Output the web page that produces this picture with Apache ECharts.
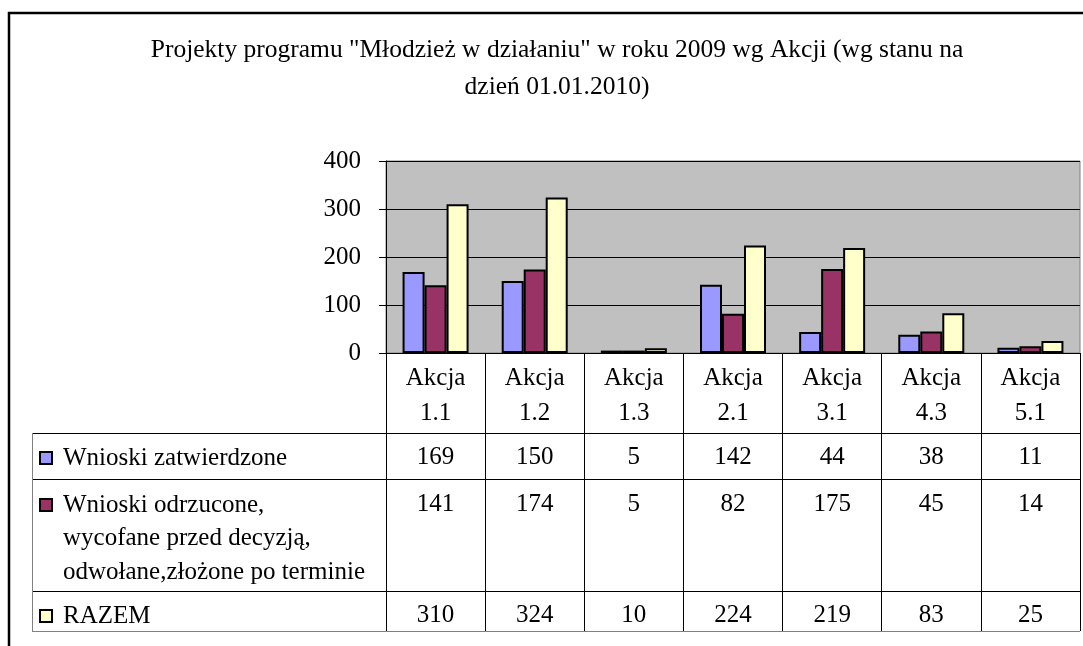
<!DOCTYPE html>
<html>
<head>
<meta charset="utf-8">
<script src="https://cdn.jsdelivr.net/npm/echarts@6/dist/echarts.min.js"></script>
<style>
  html, body { margin: 0; padding: 0; background: #fff; }
  #chart { width: 1083px; height: 646px; }
</style>
</head>
<body>
<div id="chart"></div>
<script>
const categories = ['Akcja\n1.1', 'Akcja\n1.2', 'Akcja\n1.3', 'Akcja\n2.1', 'Akcja\n3.1', 'Akcja\n4.3', 'Akcja\n5.1']
const approved = [169, 150, 5, 142, 44, 38, 11]
const rejected = [141, 174, 5, 82, 175, 45, 14]
const total = [310, 324, 10, 224, 219, 83, 25]
const seriesNames = [
  'Wnioski zatwierdzone',
  'Wnioski odrzucone,\nwycofane przed decyzją,\nodwołane,złożone po terminie',
  'RAZEM'
]
const yTicks = [0, 100, 200, 300, 400]
const titleText = 'Projekty programu "Młodzież w działaniu" w roku 2009 wg Akcji (wg stanu na\ndzień 01.01.2010)'

const font = 'Liberation Serif'
const colors = ['#9999FF', '#993366', '#FFFFCC']

// plot area
const plotLeft = 386
const plotTop = 161
const plotWidth = 694
const plotHeight = 192
const axisY = plotTop + plotHeight
// table row lines (px from top)
const rowLines = [433, 479, 591, 631]
const tableLeft = 32
const tableFont = 25

const chart = echarts.init(document.getElementById('chart'), null, { renderer: 'canvas' })

const rowAxis = (offset, margin, values) => ({
  type: 'category',
  gridIndex: 0,
  position: 'bottom',
  offset: offset,
  data: categories,
  axisLine: { show: false },
  axisTick: { show: false },
  splitLine: { show: false },
  axisLabel: {
    margin: margin,
    fontFamily: font,
    fontSize: tableFont,
    lineHeight: 28,
    color: '#000',
    formatter: (v, i) => String(values[i])
  }
})

const legendBase = {
  left: 34,
  icon: 'rect',
  itemWidth: 12,
  itemHeight: 12,
  formatter: name => name.split('\n')[0],
  textStyle: {
    fontFamily: font,
    fontSize: tableFont,
    lineHeight: 28,
    color: '#000',
    padding: [0, 0, 0, 6]
  }
}

// lines 2-3 of the second legend entry
const extraLegendLines = seriesNames[1].split('\n').slice(1)

const option = {
  backgroundColor: '#fff',
  animation: false,
  legend: [
    { ...legendBase, data: [seriesNames[0]], top: 439 },
    { ...legendBase, data: [seriesNames[1]], top: 486 },
    { ...legendBase, data: [seriesNames[2]], top: 597 }
  ],
  grid: {
    left: plotLeft,
    top: plotTop,
    width: plotWidth,
    height: plotHeight,
    show: true,
    backgroundColor: '#C0C0C0',
    borderColor: '#808080',
    borderWidth: 1
  },
  xAxis: [
    {
      type: 'category',
      data: categories,
      axisLine: { show: true, lineStyle: { color: '#000', width: 1 } },
      // ticks stretched down to form the table's column lines
      axisTick: { show: true, length: rowLines[3] - axisY, lineStyle: { color: '#000', width: 1 } },
      axisLabel: {
        margin: 8,
        fontFamily: font,
        fontSize: tableFont,
        lineHeight: 35,
        color: '#000'
      }
    },
    rowAxis(rowLines[0] - axisY, 10, approved),
    rowAxis(rowLines[1] - axisY, 11, rejected),
    rowAxis(rowLines[2] - axisY, 10, total)
  ],
  yAxis: {
    type: 'value',
    min: yTicks[0],
    max: yTicks[yTicks.length - 1],
    interval: 100,
    axisLine: { show: true, lineStyle: { color: '#000', width: 1 } },
    axisTick: { show: true, length: 7, lineStyle: { color: '#000' } },
    splitLine: { show: true, lineStyle: { color: '#000', width: 1 } },
    axisLabel: {
      margin: 25,
      fontFamily: font,
      fontSize: 25,
      color: '#000'
    }
  },
  series: [approved, rejected, total].map((d, i) => ({
    name: seriesNames[i],
    type: 'bar',
    data: d,
    barWidth: 22,
    barGap: '0%',
    itemStyle: { color: colors[i], borderColor: '#000', borderWidth: 2 }
  })),
  graphic: [
    // title, centred a little right of the page centre as in the original
    {
      type: 'text',
      x: 557,
      y: 32,
      style: {
        text: titleText,
        font: '25.5px "' + font + '"',
        lineHeight: 37,
        fill: '#000',
        align: 'center',
        verticalAlign: 'top'
      }
    },
    // outer frame
    {
      type: 'polyline',
      shape: { points: [[9, 646], [9, 13], [1083, 13]] },
      style: { stroke: '#000', lineWidth: 2.5, fill: null }
    },
    // table horizontal lines
    ...rowLines.map((y, i) => ({
      type: 'line',
      shape: { x1: tableLeft, y1: y + 0.5, x2: plotLeft + plotWidth, y2: y + 0.5 },
      style: { stroke: i === rowLines.length - 1 ? '#808080' : '#000', lineWidth: 1 }
    })),
    {
      type: 'line',
      shape: { x1: tableLeft + 0.5, y1: rowLines[0], x2: tableLeft + 0.5, y2: rowLines[3] + 1 },
      style: { stroke: '#808080', lineWidth: 1 }
    },
    ...extraLegendLines.map((t, i) => ({
      type: 'text',
      x: 63,
      y: 538 + i * 34.5,
      style: {
        text: t,
        font: tableFont + 'px "' + font + '"',
        fill: '#000',
        verticalAlign: 'middle'
      }
    }))
  ]
}

chart.setOption(option)
</script>
</body>
</html>
